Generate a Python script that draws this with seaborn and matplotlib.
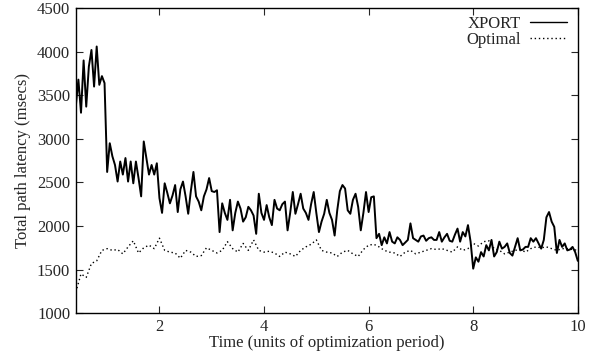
import numpy as np
import pandas as pd
import matplotlib
matplotlib.use("Agg")
import matplotlib.pyplot as plt
import seaborn as sns

# time axis (units of optimization period)
xport_t = np.round(np.arange(0.40, 10.0001, 0.05), 2)
optimal_t = np.round(np.arange(0.4, 10.0001, 0.1), 1)

# total path latency (msecs)
xport_latency = [
    3370, 3680, 3300, 3900, 3370, 3830, 4020, 3600, 4060, 3620,
    3720, 3640, 2620, 2950, 2800, 2700, 2510, 2740, 2590, 2780,
    2510, 2740, 2490, 2740, 2550, 2340, 2970, 2780, 2590, 2700,
    2590, 2720, 2320, 2150, 2490, 2380, 2260, 2350, 2470, 2160,
    2420, 2510, 2340, 2140, 2400, 2620, 2340, 2280, 2180, 2340,
    2420, 2550, 2400, 2390, 2410, 1930, 2260, 2150, 2070, 2300,
    1950, 2150, 2280, 2200, 2050, 2100, 2220, 2180, 2120, 1910,
    2370, 2150, 2070, 2240, 2100, 2010, 2300, 2200, 2180, 2250,
    2280, 1950, 2150, 2390, 2140, 2250, 2370, 2200, 2150, 2070,
    2250, 2390, 2150, 1930, 2050, 2140, 2300, 2150, 2070, 1890,
    2180, 2400, 2470, 2430, 2180, 2140, 2300, 2370, 2220, 1950,
    2150, 2390, 2160, 2330, 2340, 1860, 1910, 1780, 1870, 1800,
    1930, 1820, 1800, 1870, 1840, 1780, 1810, 1840, 2030, 1860,
    1840, 1820, 1880, 1890, 1830, 1860, 1870, 1840, 1840, 1930,
    1820, 1870, 1910, 1830, 1820, 1900, 1970, 1820, 1930, 1880,
    2010, 1820, 1510, 1640, 1590, 1700, 1650, 1780, 1720, 1840,
    1650, 1700, 1820, 1740, 1760, 1800, 1690, 1660, 1760, 1860,
    1720, 1730, 1760, 1760, 1860, 1820, 1860, 1800, 1740, 1840,
    2100, 2160, 2050, 1990, 1690, 1840, 1760, 1800, 1720, 1730,
    1760, 1700, 1600,
]

optimal_latency = [
    1240, 1450, 1410, 1570, 1600, 1720, 1740, 1720, 1730, 1680,
    1760, 1830, 1690, 1750, 1780, 1740, 1860, 1720, 1700, 1690,
    1630, 1720, 1700, 1650, 1660, 1750, 1720, 1690, 1720, 1820,
    1740, 1700, 1800, 1720, 1840, 1720, 1700, 1710, 1690, 1650,
    1700, 1680, 1650, 1720, 1760, 1790, 1840, 1720, 1700, 1690,
    1650, 1700, 1720, 1680, 1650, 1730, 1780, 1790, 1760, 1720,
    1700, 1690, 1650, 1700, 1720, 1680, 1700, 1720, 1740, 1730,
    1740, 1720, 1700, 1760, 1720, 1740, 1800, 1770, 1820, 1830,
    1740, 1720, 1680, 1700, 1720, 1730, 1700, 1740, 1760, 1750,
    1760, 1740, 1720, 1740, 1740, 1730, 1720,
]

x_ticks = [2, 4, 6, 8, 10]
y_ticks = [1000, 1500, 2000, 2500, 3000, 3500, 4000, 4500]

sns.set_style("ticks")
plt.rcParams["font.family"] = ["Liberation Serif", "DejaVu Serif"]
plt.rcParams["font.size"] = 12

xport = pd.DataFrame({"t": xport_t, "latency": xport_latency})
optimal = pd.DataFrame({"t": optimal_t, "latency": optimal_latency})

fig = plt.figure(figsize=(5.92, 3.55), dpi=100)
ax = fig.add_axes([0.128, 0.118, 0.848, 0.859])

sns.lineplot(data=xport, x="t", y="latency", ax=ax, color="black",
             linewidth=1.4, estimator=None, label="XPORT")
sns.lineplot(data=optimal, x="t", y="latency", ax=ax, color="black",
             linewidth=1.0, linestyle=(0, (1, 2)), estimator=None, label="Optimal")

ax.set_xlim(0.4, 10)
ax.set_ylim(1000, 4500)
ax.set_xticks(x_ticks)
ax.set_yticks(y_ticks)
ax.tick_params(direction="in", length=5, width=0.8, top=True, right=True,
               labelsize=12, pad=4)
for spine in ax.spines.values():
    spine.set_visible(True)
    spine.set_linewidth(1.0)
    spine.set_color("black")

ax.set_xlabel("Time (units of optimization period)", fontsize=12, labelpad=0)
ax.set_ylabel("Total path latency (msecs)", fontsize=12, labelpad=4)

leg = ax.legend(loc="upper right", bbox_to_anchor=(0.985, 0.985), frameon=False,
                markerfirst=False, handlelength=2.2, fontsize=12, borderaxespad=0,
                borderpad=0.2, labelspacing=0.0, handletextpad=0.55)
leg.get_lines()[0].set_linewidth(1.0)

fig.savefig("out.png", dpi=100)
